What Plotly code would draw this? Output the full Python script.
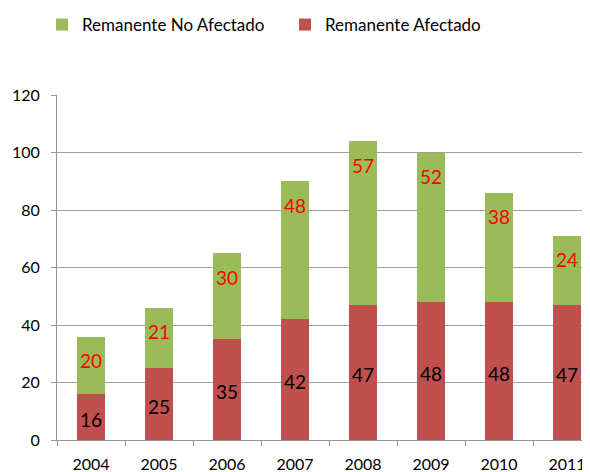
import plotly.graph_objects as go

years = ["2004", "2005", "2006", "2007", "2008", "2009", "2010", "2011"]
afectado = [16, 25, 35, 42, 47, 48, 48, 47]
no_afectado = [20, 21, 30, 48, 57, 52, 38, 24]
y_ticks = [0, 20, 40, 60, 80, 100, 120]

RED = "#C0504D"
GREEN = "#9BBB59"
FONT = "Lato"
W, H = 590, 472
OFF = 8  # page body margin

fig = go.Figure()
fig.add_trace(go.Bar(x=years, y=afectado, name="Remanente Afectado", legend="legend2",
                     marker=dict(color=RED, line=dict(width=0)), width=0.4))
fig.add_trace(go.Bar(x=years, y=no_afectado, name="Remanente No Afectado", legend="legend",
                     marker=dict(color=GREEN, line=dict(width=0)), width=0.4))

annotations = []
for i, (a, n) in enumerate(zip(afectado, no_afectado)):
    # category axis: annotation x is the category's serial index
    annotations.append(dict(x=i, y=a / 2, xref="x", yref="y", text=str(a), showarrow=False,
                            yshift=-2, font=dict(family=FONT, size=19, color="black")))
    annotations.append(dict(x=i, y=a + n, xref="x", yref="y", text=str(n), showarrow=False,
                            yshift=-24, font=dict(family=FONT, size=19, color="#FF0000")))

leg_common = dict(orientation="h", xref="container", yref="container",
                  xanchor="left", yanchor="middle",
                  font=dict(family=FONT, size=17, color="black"))

fig.update_layout(
    width=W, height=H,
    barmode="stack",
    plot_bgcolor="white", paper_bgcolor="white",
    margin=dict(l=57 - OFF, r=0, t=95 - OFF, b=H - (440 - OFF), autoexpand=False),
    font=dict(family=FONT, size=16, color="black"),
    showlegend=True,
    legend=dict(x=(42 - OFF) / W, y=1 - (25 - OFF) / H, **leg_common),
    legend2=dict(x=(285 - OFF) / W, y=1 - (25 - OFF) / H, **leg_common),
    annotations=annotations,
)
fig.update_xaxes(type="category", range=[-0.5, -0.5 + (W - (57 - OFF)) / 68],
                 showline=True, linecolor="#959595", linewidth=1,
                 ticks="outside", tickson="boundaries", ticklen=5, tickcolor="#959595",
                 ticklabelstandoff=10, showgrid=False,
                 tickfont=dict(family=FONT, size=16, color="black"))
fig.update_yaxes(range=[0, 120], tickvals=y_ticks, showline=True, linecolor="#959595",
                 linewidth=1, ticks="outside", ticklen=5, tickcolor="#959595",
                 showgrid=True, gridcolor="#A0A0A0", gridwidth=1, zeroline=False,
                 ticklabelstandoff=8,
                 tickfont=dict(family=FONT, size=16, color="black"))

fig.write_html("out.html")
